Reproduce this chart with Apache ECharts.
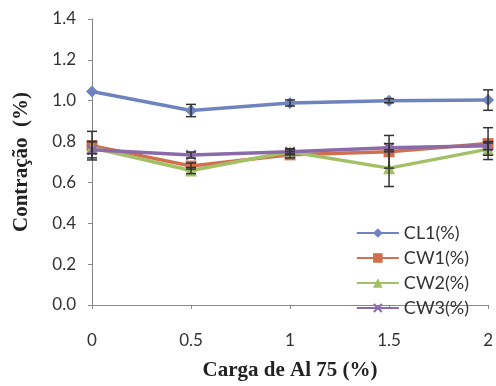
<!DOCTYPE html>
<html><head><meta charset="utf-8">
<script src="https://cdn.jsdelivr.net/npm/echarts@6/dist/echarts.min.js"></script>
<style>html,body{margin:0;padding:0;background:#fff}#c{width:496px;height:386px}</style>
</head><body><div id="c"></div>
<script>
const xValues = [0, 0.5, 1, 1.5, 2];
const seriesNames = ['CL1(%)', 'CW1(%)', 'CW2(%)', 'CW3(%)'];
const cl1 = [1.045, 0.952, 0.989, 1.0, 1.003];
const cw1 = [0.78, 0.68, 0.735, 0.75, 0.79];
const cw2 = [0.77, 0.658, 0.75, 0.67, 0.763];
const cw3 = [0.76, 0.734, 0.75, 0.77, 0.78];
const cl1Err = [0, 0.03, 0.015, 0.01, 0.05];
const cw1Err = [0.07, 0.015, 0.015, 0.08, 0.078];
const cw2Err = [0.03, 0.015, 0.015, 0.09, 0.03];
const cw3Err = [0.04, 0.015, 0.01, 0.02, 0.02];
const yTicks = [0, 0.2, 0.4, 0.6, 0.8, 1.0, 1.2, 1.4];

const colors = ['#6f84bf', '#d0704f', '#a4c067', '#8a6aa8'];
const xShape = 'path://M0,1.5L1.5,0L5,3.5L8.5,0L10,1.5L6.5,5L10,8.5L8.5,10L5,6.5L1.5,10L0,8.5L3.5,5Z';
const symbols = ['diamond', 'rect', 'triangle', xShape];
const symSizes = [12, 11, 12, 11];
const vals = [cl1, cw1, cw2, cw3];
const errs = [cl1Err, cw1Err, cw2Err, cw3Err];

const series = [];
vals.forEach((v, i) => {
  series.push({
    name: seriesNames[i], type: 'line',
    data: xValues.map((x, j) => [x, v[j]]),
    symbol: symbols[i], symbolSize: symSizes[i],
    lineStyle: { color: colors[i], width: 3.5 },
    itemStyle: { color: colors[i] },
    z: 2 + i
  });
});
vals.forEach((v, i) => {
  series.push({
    type: 'custom', silent: true, z: 10,
    data: xValues.map((x, j) => [x, v[j] - errs[i][j], v[j] + errs[i][j]]),
    renderItem: function (params, api) {
      const lo = api.coord([api.value(0), api.value(1)]);
      const hi = api.coord([api.value(0), api.value(2)]);
      if (Math.abs(hi[1] - lo[1]) < 1) return null;
      const w = 5;
      const st = { stroke: '#333', lineWidth: 1.5 };
      return { type: 'group', children: [
        { type: 'line', shape: { x1: lo[0], y1: lo[1], x2: hi[0], y2: hi[1] }, style: st },
        { type: 'line', shape: { x1: lo[0] - w, y1: lo[1], x2: lo[0] + w, y2: lo[1] }, style: st },
        { type: 'line', shape: { x1: hi[0] - w, y1: hi[1], x2: hi[0] + w, y2: hi[1] }, style: st }
      ]};
    }
  });
});

const chart = echarts.init(document.getElementById('c'));
chart.setOption({
  animation: false,
  backgroundColor: '#fff',
  grid: { left: 92, right: 4, top: 19, bottom: 74, containLabel: false },
  legend: {
    data: seriesNames, orient: 'vertical', right: 22, top: 219,
    itemWidth: 42, itemHeight: 12, itemGap: 7,
    textStyle: { fontFamily: 'Lato', fontSize: 18, color: '#333' }
  },
  xAxis: {
    type: 'value', min: 0, max: 2, interval: 0.5,
    name: 'Carga de Al 75 (%)', nameLocation: 'middle', nameGap: 55,
    nameTextStyle: { fontFamily: 'Liberation Serif', fontWeight: 'bold', fontSize: 21, color: '#222' },
    axisLine: { lineStyle: { color: '#888', width: 1 } },
    axisTick: { show: true, length: 4, lineStyle: { color: '#888' } },
    axisLabel: { margin: 27, fontFamily: 'Lato', fontSize: 17, color: '#333' },
    splitLine: { show: false }
  },
  yAxis: {
    type: 'value', min: 0, max: 1.4, interval: 0.2,
    name: 'Contração  (%)', nameLocation: 'middle', nameGap: 60,
    nameTextStyle: { fontFamily: 'Liberation Serif', fontWeight: 'bold', fontSize: 21, color: '#222' },
    axisLine: { show: true, lineStyle: { color: '#888', width: 1 } },
    axisTick: { show: true, length: 4, lineStyle: { color: '#888' } },
    axisLabel: { margin: 16, fontFamily: 'Lato', fontSize: 17, color: '#333',
      formatter: v => { const t = yTicks.find(k => Math.abs(k - v) < 1e-9); return (t !== undefined ? t : v).toFixed(1); } },
    splitLine: { show: false }
  },
  series: series
});
</script></body></html>
